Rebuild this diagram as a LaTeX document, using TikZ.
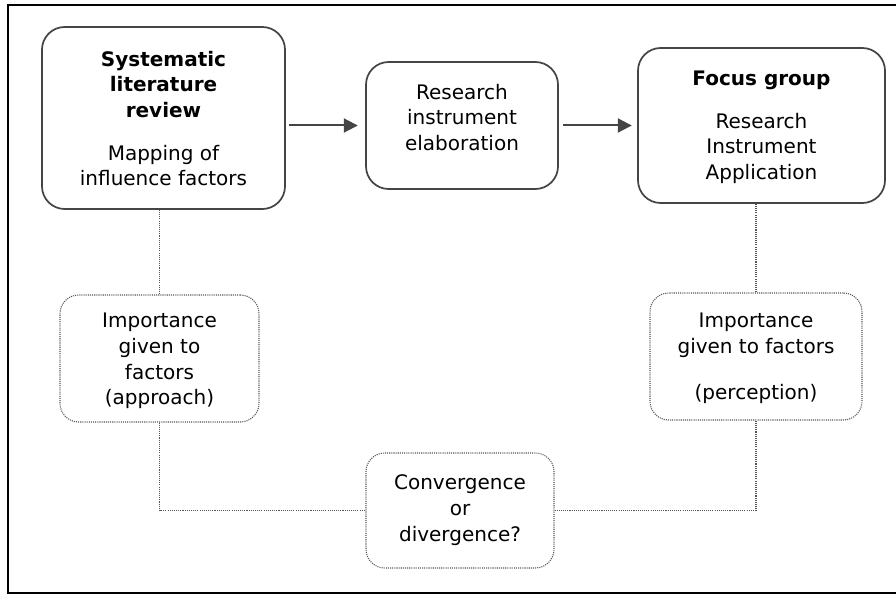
\documentclass[tikz,border=0pt]{standalone}
\usepackage{fontspec}
\setmainfont{DejaVu Sans}
\usetikzlibrary{arrows.meta}
\definecolor{boxgray}{HTML}{454545}
\definecolor{dotgray}{HTML}{555555}
\tikzset{
  solidbox/.style={draw=boxgray, line width=1.3pt, rounded corners=17pt, inner sep=0pt},
  dotbox/.style={draw=dotgray, line width=0.8pt, dash pattern=on 0.8pt off 0.8pt, rounded corners=14pt, inner sep=0pt},
  txt/.style={align=center, inner sep=0pt, font=\fontsize{15}{19.3}\selectfont, text=black},
  flow/.style={draw=boxgray, line width=1.5pt, -{Triangle[length=10.5pt,width=10.5pt]}},
  link/.style={draw=dotgray, line width=0.8pt, dash pattern=on 0.8pt off 0.8pt}
}
\begin{document}
\begin{tikzpicture}[x=0.75pt,y=-0.75pt]
\useasboundingbox (0,0) rectangle (896,595);
% frame
\draw[line width=1.5pt, black] (900,5) -- (8,5) -- (8,593) -- (900,593);

% solid boxes
\node[solidbox, minimum width=182.25pt, minimum height=136.5pt] (slr) at (163.5,118) {};
\node[solidbox, minimum width=144pt, minimum height=95.25pt] (elab) at (462,125.5) {};
\node[solidbox, minimum width=185.25pt, minimum height=116.25pt] (fg) at (761.5,125.5) {};

% dotted boxes
\node[dotbox, minimum width=149.25pt, minimum height=95.25pt] (il) at (159.5,358.5) {};
\node[dotbox, minimum width=159pt, minimum height=95.25pt] (ir) at (756,356.5) {};
\node[dotbox, minimum width=141pt, minimum height=86.25pt] (conv) at (460,510.5) {};

% texts
\node[txt] (slrt) at (163.5,118.5) {\bfseries Systematic\\\bfseries literature\\\bfseries review\\[12.5pt]Mapping of\\influence factors};
\node[txt] (elabt) at (462,117.5) {Research\\instrument\\elaboration};
\node[txt] (fgt) at (761.5,127.5) {\bfseries Focus group\\[12.5pt]Research\\Instrument\\Application};
\node[txt] (ilt) at (159.5,361) {Importance\\given to\\factors\\(approach)};
\node[txt] (irt) at (756,358.5) {Importance\\given to factors\\[15pt](perception)};
\node[txt] (convt) at (460,510) {Convergence\\or\\divergence?};

% arrows
\draw[flow, shorten <=2.25pt, shorten >=5.5pt] (elab.west -| slr.east) -- (elab.west);
\draw[flow, shorten <=3pt, shorten >=4pt] (elab.east) -- (fg.west);

% dotted links
\draw[link] (il.north |- slr.south) -- (il.north);
\draw[link] (ir.north |- fg.south) -- (ir.north);
\draw[link] (il.south) |- (conv.west);
\draw[link] (conv.east) -| (ir.south);
\end{tikzpicture}
\end{document}
